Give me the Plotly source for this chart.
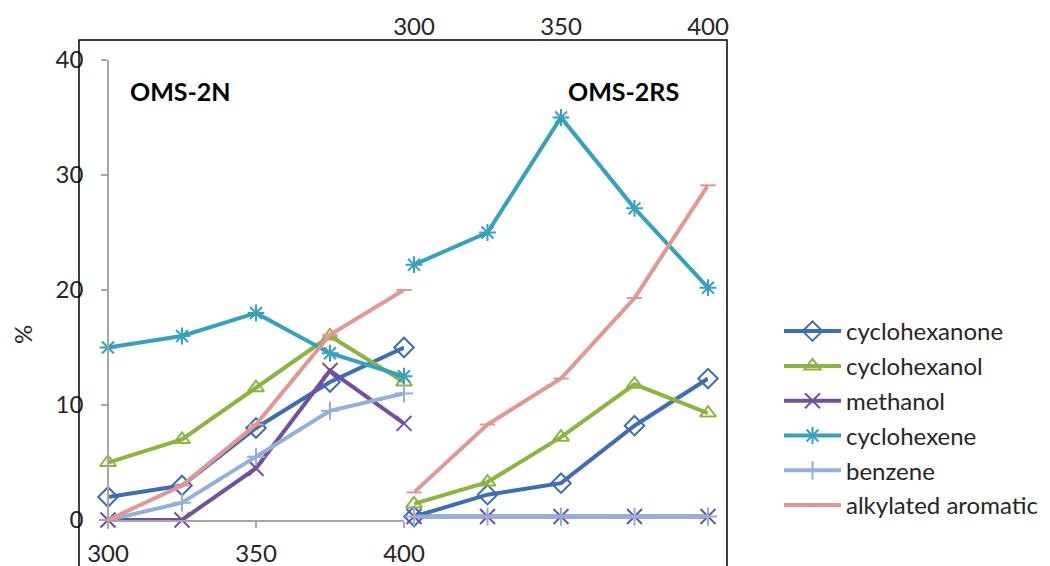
import plotly.graph_objects as go

# ---------------- data ----------------
temps = [300, 325, 350, 375, 400]
tick_vals = [300, 350, 400]
y_ticks = [0, 10, 20, 30, 40]

series_names = ["cyclohexanone", "cyclohexanol", "methanol", "cyclohexene", "benzene", "alkylated aromatic"]

# OMS-2N (left panel, bottom axis)
oms2n_cyclohexanone = [2.0, 3.0, 8.0, 12.0, 15.0]
oms2n_cyclohexanol = [5.0, 7.0, 11.5, 16.0, 12.0]
oms2n_methanol = [0.0, 0.0, 4.5, 13.0, 8.4]
oms2n_cyclohexene = [15.0, 16.0, 18.0, 14.5, 12.5]
oms2n_benzene = [0.0, 1.5, 5.5, 9.5, 11.0]
oms2n_alkylated = [0.0, 3.0, 8.3, 16.1, 20.0]

# OMS-2RS (right panel, top axis)
oms2rs_cyclohexanone = [0.3, 2.2, 3.2, 8.2, 12.3]
oms2rs_cyclohexanol = [1.4, 3.3, 7.2, 11.8, 9.3]
oms2rs_methanol = [0.3, 0.3, 0.3, 0.3, 0.3]
oms2rs_cyclohexene = [22.2, 25.0, 35.0, 27.1, 20.2]
oms2rs_benzene = [0.3, 0.3, 0.3, 0.3, 0.3]
oms2rs_alkylated = [2.4, 8.3, 12.3, 19.3, 29.1]

left_data = [oms2n_cyclohexanone, oms2n_cyclohexanol, oms2n_methanol,
             oms2n_cyclohexene, oms2n_benzene, oms2n_alkylated]
right_data = [oms2rs_cyclohexanone, oms2rs_cyclohexanol, oms2rs_methanol,
              oms2rs_cyclohexene, oms2rs_benzene, oms2rs_alkylated]

# ---------------- styles ----------------
colors = ["#3d6db3", "#8cb53f", "#7250a0", "#36a1bf", "#93afdc", "#e39694"]
symbols = ["diamond-open", "triangle-up-open", "x-thin-open", "asterisk-open",
           "cross-thin-open", "line-ew-open"]
msizes = [15, 14, 15, 14, 13, 11]

FONT = "Lato"
W, H = 1050, 566
L, R, T, B = 79, 727, 40, 566


def px_x(px):
    return (px - L) / (R - L)


def px_y(py):
    return (B - py) / (B - T)


fig = go.Figure()

for i, name in enumerate(series_names):
    fig.add_trace(go.Scatter(
        x=temps, y=left_data[i], name=name, mode="lines+markers",
        xaxis="x", yaxis="y", legendgroup=name,
        line=dict(color=colors[i], width=4),
        marker=dict(symbol=symbols[i], size=msizes[i], color=colors[i],
                    line=dict(width=2, color=colors[i])),
        cliponaxis=False,
    ))
for i, name in enumerate(series_names):
    fig.add_trace(go.Scatter(
        x=temps, y=right_data[i], name=name, mode="lines+markers",
        xaxis="x2", yaxis="y", legendgroup=name, showlegend=False,
        line=dict(color=colors[i], width=4),
        marker=dict(symbol=symbols[i], size=msizes[i], color=colors[i],
                    line=dict(width=2, color=colors[i])),
        cliponaxis=False,
    ))

axis_gray = "#a6a6a6"
tick_font = dict(family=FONT, size=24, color="#262626")

fig.update_layout(
    width=W, height=H,
    margin=dict(l=L, r=W - R, t=T, b=H - B, autoexpand=False),
    paper_bgcolor="white", plot_bgcolor="white",
    font=dict(family=FONT, size=24, color="#262626"),
    showlegend=True,
    legend=dict(
        x=px_x(779), y=px_y(309), xanchor="left", yanchor="top",
        font=dict(family=FONT, size=24, color="#262626"),
        bgcolor="rgba(0,0,0,0)", itemwidth=57, tracegroupgap=0.6,
    ),
    xaxis=dict(
        domain=[px_x(108), px_x(404)], range=[300, 400], anchor="y",
        tickvals=tick_vals, showgrid=False, zeroline=False,
        showline=True, linecolor=axis_gray, linewidth=1.5,
        ticks="outside", ticklen=6, tickcolor=axis_gray, tickwidth=1.5,
        tickfont=tick_font, ticklabelstandoff=5,
    ),
    xaxis2=dict(
        domain=[px_x(414), px_x(708)], range=[300, 400], anchor="free",
        position=1.0, side="top",
        tickvals=tick_vals, showgrid=False, zeroline=False,
        showline=False, ticks="", tickfont=tick_font,
    ),
    yaxis=dict(
        domain=[px_y(520), px_y(60)], range=[0, 40], anchor="free",
        position=px_x(108), tickvals=y_ticks, showgrid=False, zeroline=False,
        showline=True, linecolor=axis_gray, linewidth=1.5,
        ticks="outside", ticklen=6, tickcolor=axis_gray, tickwidth=1.5,
        tickfont=tick_font, ticklabelstandoff=13,
    ),
    shapes=[dict(type="rect", xref="paper", yref="paper",
                 x0=0, x1=1, y0=-0.2, y1=1,
                 line=dict(color="black", width=1.5), fillcolor="rgba(0,0,0,0)",
                 layer="above")],
    annotations=[
        dict(text="<b>OMS-2N</b>", xref="paper", yref="paper",
             x=px_x(180), y=px_y(91), xanchor="center", yanchor="middle",
             showarrow=False, font=dict(family=FONT, size=25, color="black")),
        dict(text="<b>OMS-2RS</b>", xref="paper", yref="paper",
             x=px_x(623), y=px_y(91), xanchor="center", yanchor="middle",
             showarrow=False, font=dict(family=FONT, size=25, color="black")),
        dict(text="%", xref="paper", yref="paper",
             x=px_x(22), y=px_y(335), xanchor="center", yanchor="middle",
             showarrow=False, textangle=-90,
             font=dict(family=FONT, size=24, color="#262626")),
    ],
)

fig.write_html("out.html", config={"displayModeBar": False},
               post_script="document.body.style.margin='0';")
